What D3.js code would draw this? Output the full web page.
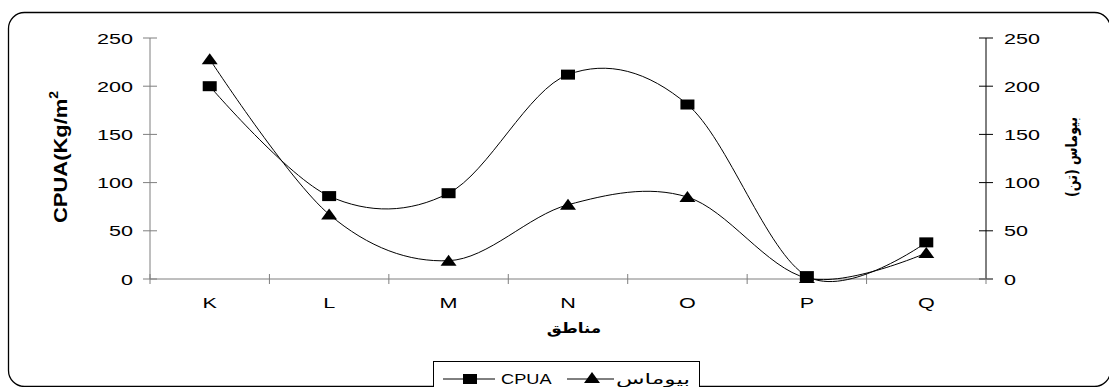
<!DOCTYPE html>
<html>
<head>
<meta charset="utf-8">
<script src="https://cdn.jsdelivr.net/npm/d3@7/dist/d3.min.js"></script>
<style>
  html, body { margin: 0; padding: 0; background: #fff; }
  svg { display: block; }
  text { font-family: "Liberation Sans", Arial, sans-serif; fill: #000; }
  .ar { font-family: "DejaVu Sans", sans-serif; }
</style>
</head>
<body>
<svg id="chart" width="1109" height="387"></svg>
<script>
// Regions and the two measured series (same 0–250 scale on both axes)
const regions = ["K", "L", "M", "N", "O", "P", "Q"];
const cpua    = [200, 86, 89, 212, 181, 3, 38];
const biomass = [228, 67, 19, 77, 85, 1, 27];
const yTicks  = [0, 50, 100, 150, 200, 250];

const svg = d3.select("#chart");
const plot = { left: 150, right: 986, top: 38, bottom: 279 };
const SX = 1.44;             // text is drawn wide, as in the original figure
const axisGrey = "#7f7f7f";

// outer rounded frame
svg.append("rect")
  .attr("x", 8.5).attr("y", 12.5)
  .attr("width", 1102).attr("height", 374)
  .attr("rx", 16).attr("ry", 16)
  .attr("fill", "none").attr("stroke", "#000").attr("stroke-width", 1.3);

const x = d3.scaleBand().domain(regions).range([plot.left, plot.right]);
const y = d3.scaleLinear().domain([0, 250]).range([plot.bottom, plot.top]);
const y2 = d3.scaleLinear().domain([0, 250]).range([plot.bottom, plot.top]);

function wideText(g, tx, ty, str, opts = {}) {
  const t = g.append("g").attr("transform",
    `translate(${tx},${ty}) scale(${opts.sx || SX},1)` + (opts.rotate ? ` rotate(${opts.rotate})` : ""))
    .append("text")
    .attr("text-anchor", opts.anchor || "middle")
    .attr("font-size", opts.size || 15)
    .text(str);
  if (opts.bold) t.attr("font-weight", "bold");
  if (opts.cls) t.attr("class", opts.cls);
  return t;
}

// left axis
const gl = svg.append("g");
gl.append("line").attr("x1", plot.left).attr("x2", plot.left)
  .attr("y1", y(250)).attr("y2", y(0)).attr("stroke", axisGrey);
yTicks.forEach(v => {
  gl.append("line").attr("x1", plot.left - 7).attr("x2", plot.left + 7)
    .attr("y1", y(v)).attr("y2", y(v)).attr("stroke", axisGrey);
  wideText(gl, plot.left - 17, y(v) + 5.5, String(v), { anchor: "end" });
});

// right axis
const gr = svg.append("g");
gr.append("line").attr("x1", plot.right).attr("x2", plot.right)
  .attr("y1", y2(250)).attr("y2", y2(0)).attr("stroke", "#000");
yTicks.forEach(v => {
  gr.append("line").attr("x1", plot.right - 7).attr("x2", plot.right + 7)
    .attr("y1", y2(v)).attr("y2", y2(v)).attr("stroke", "#000");
  wideText(gr, plot.right + 18, y2(v) + 5.5, String(v), { anchor: "start" });
});

// category axis
const gx = svg.append("g");
gx.append("line").attr("x1", plot.left).attr("x2", plot.right)
  .attr("y1", y(0)).attr("y2", y(0)).attr("stroke", axisGrey);
const bounds = regions.map(r => x(r)).concat([plot.right]);
bounds.forEach(b => {
  gx.append("line").attr("x1", b).attr("x2", b)
    .attr("y1", y(0) - 5).attr("y2", y(0) + 5).attr("stroke", axisGrey);
});
regions.forEach(r => wideText(gx, x(r) + x.bandwidth() / 2, 308, r));

// axis titles
wideText(svg, 574, 333, "مناطق", { bold: true, size: 14, cls: "ar", sx: 1.2 });

const lt = svg.append("g").attr("transform", "translate(67,157) rotate(-90)")
  .append("text").attr("text-anchor", "middle").attr("font-weight", "bold")
  .attr("font-size", 19).attr("textLength", 132).attr("lengthAdjust", "spacingAndGlyphs");
lt.append("tspan").text("CPUA(Kg/m");
lt.append("tspan").attr("font-size", 12).attr("dy", -9).text("2");

svg.append("g").attr("transform", "translate(1077,157) rotate(-90)")
  .append("text").attr("class", "ar").attr("text-anchor", "middle")
  .attr("font-weight", "bold").attr("font-size", 16)
  .attr("textLength", 80).attr("lengthAdjust", "spacingAndGlyphs")
  .text("بیوماس (تن)");

// smoothed series lines
const cx = i => x(regions[i]) + x.bandwidth() / 2;
const lineL = d3.line().x((d, i) => cx(i)).y(d => y(d)).curve(d3.curveCardinal.tension(0));
const lineR = d3.line().x((d, i) => cx(i)).y(d => y2(d)).curve(d3.curveCardinal.tension(0));

svg.append("path").attr("d", lineL(cpua))
  .attr("fill", "none").attr("stroke", "#000").attr("stroke-width", 1);
svg.append("path").attr("d", lineR(biomass))
  .attr("fill", "none").attr("stroke", "#000").attr("stroke-width", 1);

// markers
const sq = (g, px, py) => g.append("rect").attr("x", px - 7).attr("y", py - 5)
  .attr("width", 14).attr("height", 10).attr("fill", "#000");
const tri = (g, px, py) => g.append("path")
  .attr("d", `M${px},${py - 6} L${px + 8},${py + 5} L${px - 8},${py + 5} Z`).attr("fill", "#000");

const gm = svg.append("g");
biomass.forEach((v, i) => tri(gm, cx(i), y2(v)));
cpua.forEach((v, i) => sq(gm, cx(i), y(v)));

// legend
const lg = svg.append("g");
lg.append("rect").attr("x", 433.5).attr("y", 361.5).attr("width", 266).attr("height", 32)
  .attr("fill", "#fff").attr("stroke", "#000");
const ly = 379;
lg.append("line").attr("x1", 443).attr("x2", 495).attr("y1", ly).attr("y2", ly).attr("stroke", "#000");
sq(lg, 470, ly);
wideText(lg, 501, ly + 4.5, "CPUA", { anchor: "start", sx: 1.3, size: 14 });
lg.append("line").attr("x1", 567).attr("x2", 614).attr("y1", ly).attr("y2", ly).attr("stroke", "#000");
tri(lg, 592, ly - 1);
lg.append("text").attr("class", "ar").attr("x", 690).attr("y", ly + 4.5)
  .attr("text-anchor", "end").attr("font-size", 14)
  .attr("textLength", 74).attr("lengthAdjust", "spacingAndGlyphs")
  .text("بیوماس");
</script>
</body>
</html>
